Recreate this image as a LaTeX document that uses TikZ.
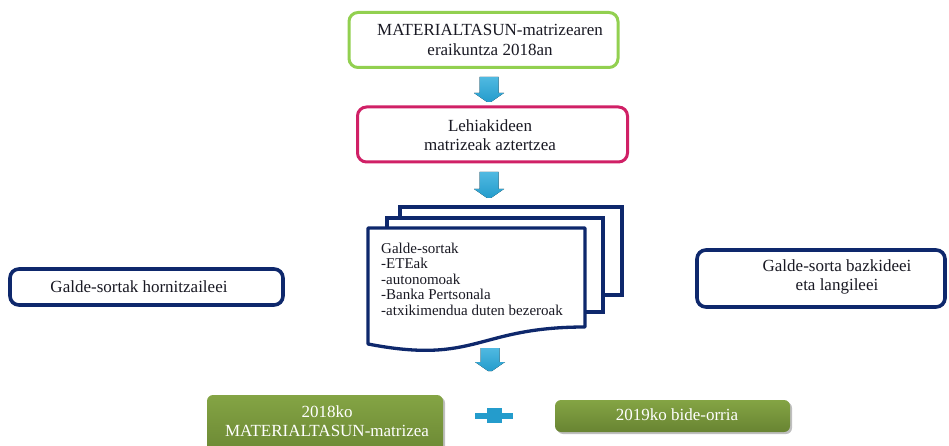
\documentclass[tikz,border=0pt]{standalone}
\usepackage{fontspec}
\setmainfont{Liberation Serif}
\usetikzlibrary{calc,shadows}
\definecolor{lgreen}{RGB}{146,208,80}
\definecolor{pinkc}{RGB}{208,32,102}
\definecolor{navy}{RGB}{14,40,108}
\definecolor{arrowblue}{RGB}{36,156,204}
\definecolor{arrowlight}{RGB}{80,185,225}
\definecolor{olive}{RGB}{104,132,50}
\definecolor{olivelight}{RGB}{132,164,68}
\definecolor{txtc}{RGB}{25,25,35}
\newcommand\blockdownarrow[3]{%
  \fill[top color=arrowlight,bottom color=arrowblue]
    (#1-9.5,#2) -- (#1+9.5,#2) -- (#1+9.5,#3-9) -- (#1+15,#3-9)
    -- (#1+2,#3) -- (#1-2,#3) -- (#1-15,#3-9) -- (#1-9.5,#3-9) -- cycle;}
\begin{document}
\begin{tikzpicture}[x=1pt,y=-1pt,
  outline/.style={draw, rounded corners=9pt, fill=white, inner sep=0pt},
  greenbox/.style={rounded corners=6pt, inner sep=0pt, top color=olivelight, bottom color=olive,
     general shadow={fill=black!50, opacity=0.5, shadow xshift=2pt, shadow yshift=-2pt}},
  label17/.style={font=\fontsize{17}{19.5}\selectfont, align=center, text=txtc, inner sep=0pt},
  label15/.style={font=\fontsize{15}{15.5}\selectfont, align=left, text=txtc, inner sep=0pt}]
\useasboundingbox (0,0) rectangle (949,446);
\clip (0,0) rectangle (949,446);

% top box
\node[outline, draw=lgreen, line width=3pt, minimum width=269pt, minimum height=55pt] (top) at (483.5,40) {};
\node[label17] (toptext) at (490,40) {MATERIALTASUN-matrizearen\\eraikuntza 2018an};

% pink box
\node[outline, draw=pinkc, line width=3pt, minimum width=270pt, minimum height=55pt] (pink) at (492.5,134.5) {};
\node[label17] (pinktext) at (490,135) {Lehiakideen\\matrizeak aztertzea};

% arrows
\blockdownarrow{489}{77}{102}
\blockdownarrow{489}{172}{198}
\blockdownarrow{490}{348}{371}

% multidocument
\draw[navy, line width=3.3pt, fill=white] (400,207) rectangle (622,295);
\draw[navy, line width=3.3pt, fill=white] (387,218) rectangle (603,312);
\draw[navy, line width=3.3pt, fill=white, line join=round]
  (368,228) -- (585,228) -- (585,327) .. controls (476.5,327) and (476.5,365) .. (368,344) -- cycle;
\node[label15, anchor=west] (doctext) at (381,279)
  {Galde-sortak\\-ETEak\\-autonomoak\\-Banka Pertsonala\\-atxikimendua duten bezeroak};

% side boxes
\node[outline, draw=navy, line width=3.6pt, minimum width=273pt, minimum height=36pt] (left) at (146.5,287) {};
\node[label17] (lefttext) at (139,287) {Galde-sortak hornitzaileei};
\node[outline, draw=navy, line width=3.6pt, minimum width=248pt, minimum height=57pt] (right) at (821,278.5) {};
\node[label17] (righttext) at (837,277) {Galde-sorta bazkideei\\eta langileei};

% bottom green boxes
\node[greenbox, minimum width=236pt, minimum height=66pt] (g1) at (325,428) {};
\node[label17, text=white] (g1text) at (327,421) {2018ko\\MATERIALTASUN-matrizea};
\node[greenbox, minimum width=235pt, minimum height=32pt] (g2) at (672.5,416) {};
\node[label17, text=white] (g2text) at (677,415) {2019ko bide-orria};

% plus
\fill[arrowblue] (475,413) rectangle (513,419);
\fill[arrowblue] (487,408) rectangle (502,423);
\end{tikzpicture}
\end{document}
